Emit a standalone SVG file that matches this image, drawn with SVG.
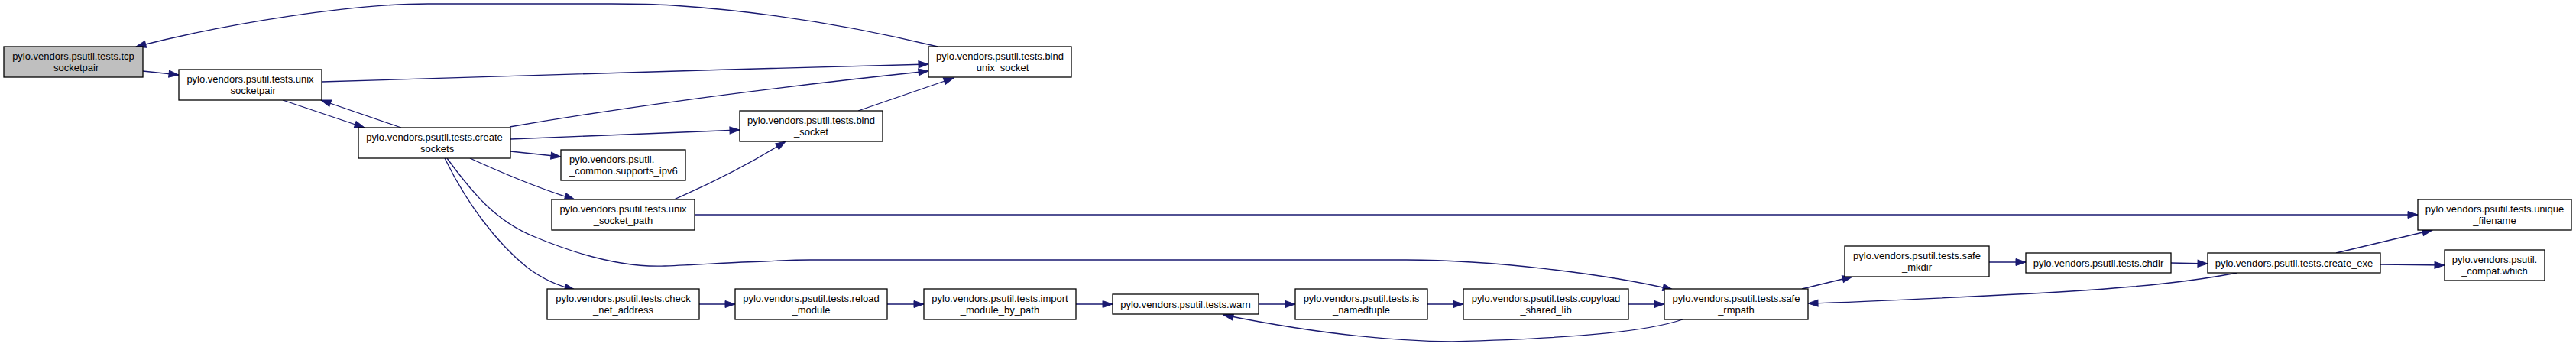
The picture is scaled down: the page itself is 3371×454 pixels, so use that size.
<svg xmlns="http://www.w3.org/2000/svg" width="3371" height="454" viewBox="0 0 3371 454">
<style>
.node rect{fill:#ffffff;stroke:#000000;stroke-width:1.3}
.root rect{fill:#bfbfbf}
text{font-family:"Liberation Sans",Arial,Helvetica,sans-serif;font-size:13px;fill:#000000;text-anchor:middle}
text.l{text-anchor:start}
.edge{fill:none;stroke:#191970;stroke-width:1.3;marker-end:url(#ah)}
</style>
<defs>
<marker id="ah" markerUnits="userSpaceOnUse" markerWidth="14" markerHeight="10" viewBox="0 0 14 10" refX="13" refY="5" orient="auto" overflow="visible">
<path d="M0,0.5 L13,5 L0,9.5 z" fill="#191970" stroke="#191970" stroke-width="1"/>
</marker>
</defs>
<rect x="0" y="0" width="3371" height="454" fill="#ffffff"/>
<g id="edges">
<path class="edge" d="M187,93 L234,98"/>
<path class="edge" d="M421,107 C650,101 950,90 1215,84"/>
<path class="edge" d="M370,131 L477,167"/>
<path class="edge" d="M525,167 L420,131"/>
<path class="edge" d="M667,166 Q900,126 1215,93"/>
<path class="edge" d="M668,182 C780,178 880,173 968,170"/>
<path class="edge" d="M668,198 L734,205"/>
<path class="edge" d="M615,207 C650,223 700,245 752,261"/>
<path class="edge" d="M585,207 C620,255 650,290 700,310 C760,335 820,350 870,348 C920,346 960,343 1000,342 C1020,341 1040,340 1060,340 L1840,340 C1950,340 2100,358 2189,379"/>
<path class="edge" d="M582,207 C610,265 650,318 690,350 C710,365 730,374 752,379"/>
<path class="edge" d="M1123,145 L1248,102"/>
<path class="edge" d="M882,261 C930,240 980,215 1028,185"/>
<path class="edge" d="M909,281 L3164,281"/>
<path class="edge" d="M915,398 L962,398"/>
<path class="edge" d="M1161,398 L1209,398"/>
<path class="edge" d="M1408,398 L1456,398"/>
<path class="edge" d="M1647,398 L1695,398"/>
<path class="edge" d="M1868,398 L1915,398"/>
<path class="edge" d="M2131,398 L2178,398"/>
<path class="edge" d="M2358,378 L2424,362"/>
<path class="edge" d="M2603,343 L2651,343"/>
<path class="edge" d="M2841,344 L2889,345"/>
<path class="edge" d="M3115,346 L3199,347"/>
<path class="edge" d="M3057,331 L3183,301"/>
<path class="edge" d="M2927,357 C2850,372 2750,380 2600,387 C2520,391 2440,395 2366,397"/>
<path class="edge" d="M2202,418 C2160,432 2080,442 1900,447 C1800,446 1700,432 1601,412"/>
<path class="edge" d="M1227,61 C1120,35 1000,15 880,7 C850,5 820,5 800,5 L560,5 C460,5 300,30 178,61"/>
</g>
<g id="node_tcp_socketpair" class="node root">
<rect x="5" y="61" width="182" height="40"/>
<text x="96" y="77.5">pylo.vendors.psutil.tests.tcp</text>
<text x="96" y="92.5">_socketpair</text>
</g>
<g id="node_unix_socketpair" class="node">
<rect x="234" y="91" width="187" height="40"/>
<text x="327.5" y="107.5">pylo.vendors.psutil.tests.unix</text>
<text x="327.5" y="122.5">_socketpair</text>
</g>
<g id="node_create_sockets" class="node">
<rect x="469" y="167" width="199" height="40"/>
<text x="568.5" y="183.5">pylo.vendors.psutil.tests.create</text>
<text x="568.5" y="198.5">_sockets</text>
</g>
<g id="node_bind_unix_socket" class="node">
<rect x="1215" y="61" width="187" height="40"/>
<text x="1308.5" y="77.5">pylo.vendors.psutil.tests.bind</text>
<text x="1308.5" y="92.5">_unix_socket</text>
</g>
<g id="node_bind_socket" class="node">
<rect x="968" y="145" width="187" height="40"/>
<text x="1061.5" y="161.5">pylo.vendors.psutil.tests.bind</text>
<text x="1061.5" y="176.5">_socket</text>
</g>
<g id="node_supports_ipv6" class="node">
<rect x="734" y="196" width="163" height="40"/>
<text class="l" x="745" y="212.5">pylo.vendors.psutil.</text>
<text class="l" x="745" y="227.5">_common.supports_ipv6</text>
</g>
<g id="node_unix_socket_path" class="node">
<rect x="722" y="261" width="187" height="40"/>
<text x="815.5" y="277.5">pylo.vendors.psutil.tests.unix</text>
<text x="815.5" y="292.5">_socket_path</text>
</g>
<g id="node_check_net_address" class="node">
<rect x="716" y="378" width="199" height="40"/>
<text x="815.5" y="394.5">pylo.vendors.psutil.tests.check</text>
<text x="815.5" y="409.5">_net_address</text>
</g>
<g id="node_reload_module" class="node">
<rect x="962" y="378" width="199" height="40"/>
<text x="1061.5" y="394.5">pylo.vendors.psutil.tests.reload</text>
<text x="1061.5" y="409.5">_module</text>
</g>
<g id="node_import_module_by_path" class="node">
<rect x="1209" y="378" width="199" height="40"/>
<text x="1308.5" y="394.5">pylo.vendors.psutil.tests.import</text>
<text x="1308.5" y="409.5">_module_by_path</text>
</g>
<g id="node_warn" class="node">
<rect x="1456" y="385" width="191" height="26"/>
<text x="1551.5" y="402.5">pylo.vendors.psutil.tests.warn</text>
</g>
<g id="node_is_namedtuple" class="node">
<rect x="1695" y="378" width="173" height="40"/>
<text x="1781.5" y="394.5">pylo.vendors.psutil.tests.is</text>
<text x="1781.5" y="409.5">_namedtuple</text>
</g>
<g id="node_copyload_shared_lib" class="node">
<rect x="1915" y="378" width="216" height="40"/>
<text x="2023" y="394.5">pylo.vendors.psutil.tests.copyload</text>
<text x="2023" y="409.5">_shared_lib</text>
</g>
<g id="node_safe_rmpath" class="node">
<rect x="2178" y="378" width="188" height="40"/>
<text x="2272" y="394.5">pylo.vendors.psutil.tests.safe</text>
<text x="2272" y="409.5">_rmpath</text>
</g>
<g id="node_safe_mkdir" class="node">
<rect x="2414" y="322" width="189" height="40"/>
<text x="2508.5" y="338.5">pylo.vendors.psutil.tests.safe</text>
<text x="2508.5" y="353.5">_mkdir</text>
</g>
<g id="node_chdir" class="node">
<rect x="2651" y="331" width="190" height="26"/>
<text x="2746" y="348.5">pylo.vendors.psutil.tests.chdir</text>
</g>
<g id="node_create_exe" class="node">
<rect x="2889" y="331" width="226" height="26"/>
<text x="3002" y="348.5">pylo.vendors.psutil.tests.create_exe</text>
</g>
<g id="node_unique_filename" class="node">
<rect x="3164" y="261" width="201" height="40"/>
<text x="3264.5" y="277.5">pylo.vendors.psutil.tests.unique</text>
<text x="3264.5" y="292.5">_filename</text>
</g>
<g id="node_compat_which" class="node">
<rect x="3199" y="327" width="131" height="40"/>
<text x="3264.5" y="343.5">pylo.vendors.psutil.</text>
<text x="3264.5" y="358.5">_compat.which</text>
</g>
</svg>
